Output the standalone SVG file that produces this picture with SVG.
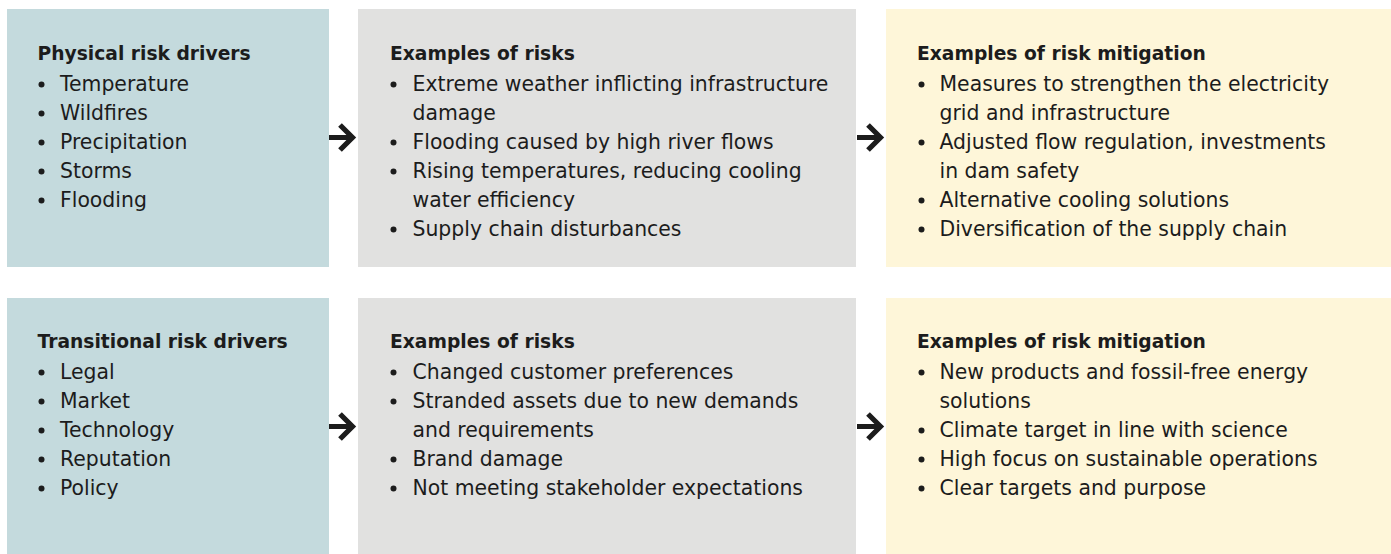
<svg xmlns="http://www.w3.org/2000/svg" xmlns:xlink="http://www.w3.org/1999/xlink" width="1391" height="554" viewBox="0 0 1391 554">
<style>
.blue{fill:#c4dadd}
.gray{fill:#e1e1e0}
.yellow{fill:#fef6d9}
.t{font-family:"DejaVu Sans","Liberation Sans",sans-serif;font-size:20.4px;fill:#1c1c1c}
.h{font-family:"DejaVu Sans","Liberation Sans",sans-serif;font-size:18.7px;font-weight:bold;fill:#1c1c1c}
.b{fill:#1c1c1c}
.arr{fill:none;stroke:#1c1c1c;stroke-width:5.2;stroke-linejoin:miter;stroke-linecap:butt}
</style>
<defs>
<path id="arrow" class="arr" d="M0 0 H22 M11 -12.5 L23.5 0 L11 12.5"/>
</defs>
<rect width="1391" height="554" fill="#ffffff"/>

<g id="physical-drivers">
<rect class="blue" x="7" y="9" width="322" height="258"/>
<text class="h" x="37.5" y="60">Physical risk drivers</text>
<circle class="b" cx="41.5" cy="84.5" r="3"/><text class="t" x="60" y="91">Temperature</text>
<circle class="b" cx="41.5" cy="113.5" r="3"/><text class="t" x="60" y="120">Wildfires</text>
<circle class="b" cx="41.5" cy="142.5" r="3"/><text class="t" x="60" y="149">Precipitation</text>
<circle class="b" cx="41.5" cy="171.5" r="3"/><text class="t" x="60" y="178">Storms</text>
<circle class="b" cx="41.5" cy="200.5" r="3"/><text class="t" x="60" y="207">Flooding</text>
</g>

<g id="physical-risks">
<rect class="gray" x="358" y="9" width="498" height="258"/>
<text class="h" x="390" y="60">Examples of risks</text>
<circle class="b" cx="393.5" cy="84.5" r="3"/><text class="t" x="412.5" y="91">Extreme weather inflicting infrastructure</text>
<text class="t" x="412.5" y="120">damage</text>
<circle class="b" cx="393.5" cy="142.5" r="3"/><text class="t" x="412.5" y="149">Flooding caused by high river flows</text>
<circle class="b" cx="393.5" cy="171.5" r="3"/><text class="t" x="412.5" y="178">Rising temperatures, reducing cooling</text>
<text class="t" x="412.5" y="207">water efficiency</text>
<circle class="b" cx="393.5" cy="229.5" r="3"/><text class="t" x="412.5" y="236">Supply chain disturbances</text>
</g>

<g id="physical-mitigation">
<rect class="yellow" x="886" y="9" width="505" height="258"/>
<text class="h" x="917" y="60">Examples of risk mitigation</text>
<circle class="b" cx="921.5" cy="84.5" r="3"/><text class="t" x="939.5" y="91">Measures to strengthen the electricity</text>
<text class="t" x="939.5" y="120">grid and infrastructure</text>
<circle class="b" cx="921.5" cy="142.5" r="3"/><text class="t" x="939.5" y="149">Adjusted flow regulation, investments</text>
<text class="t" x="939.5" y="178">in dam safety</text>
<circle class="b" cx="921.5" cy="200.5" r="3"/><text class="t" x="939.5" y="207">Alternative cooling solutions</text>
<circle class="b" cx="921.5" cy="229.5" r="3"/><text class="t" x="939.5" y="236">Diversification of the supply chain</text>
</g>

<g id="transitional-drivers">
<rect class="blue" x="7" y="298" width="322" height="256"/>
<text class="h" x="37.5" y="348">Transitional risk drivers</text>
<circle class="b" cx="41.5" cy="372.5" r="3"/><text class="t" x="60" y="379">Legal</text>
<circle class="b" cx="41.5" cy="401.5" r="3"/><text class="t" x="60" y="408">Market</text>
<circle class="b" cx="41.5" cy="430.5" r="3"/><text class="t" x="60" y="437">Technology</text>
<circle class="b" cx="41.5" cy="459.5" r="3"/><text class="t" x="60" y="466">Reputation</text>
<circle class="b" cx="41.5" cy="488.5" r="3"/><text class="t" x="60" y="495">Policy</text>
</g>

<g id="transitional-risks">
<rect class="gray" x="358" y="298" width="498" height="256"/>
<text class="h" x="390" y="348">Examples of risks</text>
<circle class="b" cx="393.5" cy="372.5" r="3"/><text class="t" x="412.5" y="379">Changed customer preferences</text>
<circle class="b" cx="393.5" cy="401.5" r="3"/><text class="t" x="412.5" y="408">Stranded assets due to new demands</text>
<text class="t" x="412.5" y="437">and requirements</text>
<circle class="b" cx="393.5" cy="459.5" r="3"/><text class="t" x="412.5" y="466">Brand damage</text>
<circle class="b" cx="393.5" cy="488.5" r="3"/><text class="t" x="412.5" y="495">Not meeting stakeholder expectations</text>
</g>

<g id="transitional-mitigation">
<rect class="yellow" x="886" y="298" width="505" height="256"/>
<text class="h" x="917" y="348">Examples of risk mitigation</text>
<circle class="b" cx="921.5" cy="372.5" r="3"/><text class="t" x="939.5" y="379">New products and fossil-free energy</text>
<text class="t" x="939.5" y="408">solutions</text>
<circle class="b" cx="921.5" cy="430.5" r="3"/><text class="t" x="939.5" y="437">Climate target in line with science</text>
<circle class="b" cx="921.5" cy="459.5" r="3"/><text class="t" x="939.5" y="466">High focus on sustainable operations</text>
<circle class="b" cx="921.5" cy="488.5" r="3"/><text class="t" x="939.5" y="495">Clear targets and purpose</text>
</g>

<g id="connectors">
<use xlink:href="#arrow" href="#arrow" x="329" y="137.5"/>
<use xlink:href="#arrow" href="#arrow" x="857" y="137.5"/>
<use xlink:href="#arrow" href="#arrow" x="329" y="426.5"/>
<use xlink:href="#arrow" href="#arrow" x="857" y="426.5"/>
</g>
</svg>
